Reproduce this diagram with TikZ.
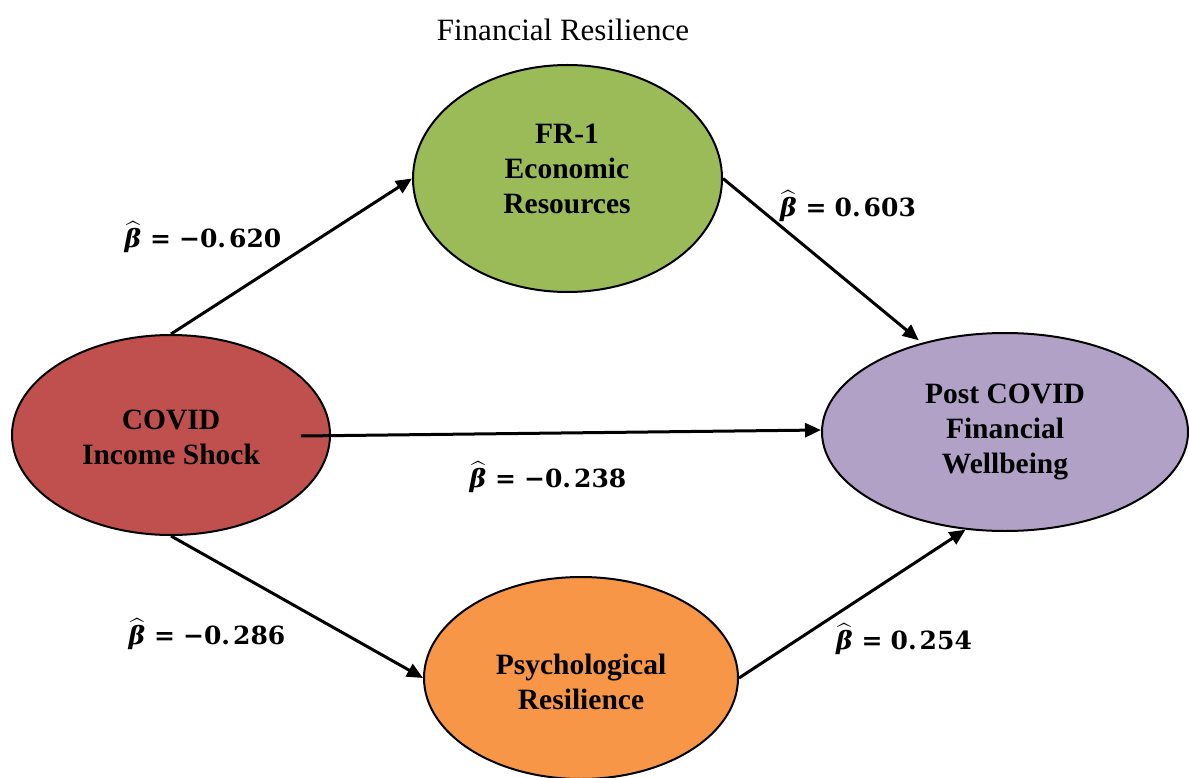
\documentclass[tikz,border=0pt]{standalone}
\usepackage{amsmath}
\usepackage{fontspec}
\setmainfont{Liberation Serif}
\newfontfamily\coeffont{DejaVu Serif}
\usetikzlibrary{shapes.geometric,arrows.meta}

\definecolor{frgreen}{HTML}{9BBB59}
\definecolor{shockred}{HTML}{C0504D}
\definecolor{wellpurple}{HTML}{B2A1C7}
\definecolor{psyorange}{HTML}{F79646}

% path coefficient label: bold beta-hat = value
\newcommand{\betalab}[1]{%
  {\coeffont\bfseries$\widehat{\text{\coeffont\bfseries\itshape β}}$\hspace{9pt}=\hspace{8pt}#1}}

\begin{document}
\begin{tikzpicture}[x=1pt,y=-1pt,
  ell/.style={ellipse, draw=black, line width=2pt, inner sep=0pt},
  nodetext/.style={align=center, font=\bfseries\fontsize{29.5}{35}\selectfont},
  link/.style={line width=3pt, -{Triangle[length=16pt,width=14pt]}},
  coef/.style={font=\fontsize{25}{30}\selectfont, inner sep=0pt}]
\fill[white] (0,0) rectangle (1189,778);
\path[use as bounding box] (0,0) rectangle (1189,778);

% title
\node[font=\fontsize{31}{36}\selectfont] (title) at (563,30) {Financial Resilience};

% constructs
\node[ell, fill=frgreen, minimum width=309pt, minimum height=227pt] (fr) at (567.5,178.5) {};
\node[ell, fill=shockred, minimum width=318pt, minimum height=200pt] (shock) at (171,435) {};
\node[ell, fill=wellpurple, minimum width=366pt, minimum height=198pt] (well) at (1005,432) {};
\node[ell, fill=psyorange, minimum width=314pt, minimum height=202pt] (psy) at (581,678) {};

\node[nodetext] (frtext) at (567,169) {FR-1\\Economic\\Resources};
\node[nodetext] (shocktext) at (171,437) {COVID\\Income Shock};
\node[nodetext] (welltext) at (1005,432) {Post COVID\\Financial\\Wellbeing};
\node[nodetext] (psytext) at (581,682) {Psychological\\Resilience};

% paths
\draw[link] (shock.north) -- (fr.west);
\draw[link, shorten >=4pt] (fr.east) -- (well.133);
\draw[link] ([xshift=-30pt,yshift=-1pt]shock.east) -- ([yshift=2pt]well.west);
\draw[link] (shock.south) -- (psy.west);
\draw[link] (psy.east) -- (well.248);

% coefficients
\node[coef] (b1) at (203,237) {\betalab{−0.\hspace{3pt}620}};
\node[coef] (b2) at (848,206) {\betalab{0.\hspace{3pt}603}};
\node[coef] (b3) at (548,477) {\betalab{−0.\hspace{3pt}238}};
\node[coef] (b4) at (207,634) {\betalab{−0.\hspace{3pt}286}};
\node[coef] (b5) at (904,639) {\betalab{0.\hspace{3pt}254}};
\end{tikzpicture}
\end{document}
